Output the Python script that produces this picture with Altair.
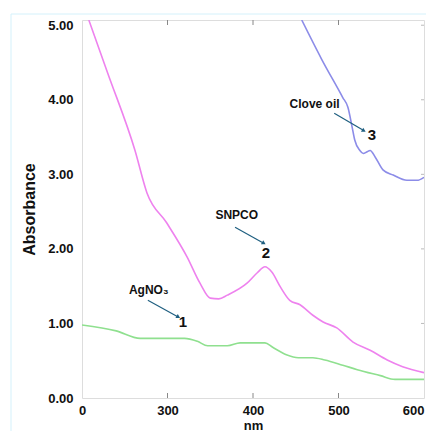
import altair as alt
import pandas as pd

# AgNO3 (curve 1)
ag_nm = [200, 240, 268, 320, 335, 347, 370, 385, 414, 423, 439, 453, 470, 484, 505, 522, 549, 566, 600]
ag_abs = [0.98, 0.90, 0.80, 0.80, 0.76, 0.70, 0.70, 0.74, 0.74, 0.68, 0.58, 0.54, 0.54, 0.51, 0.44, 0.38, 0.30, 0.25, 0.25]
# SNPCO (curve 2)
sn_nm = [208, 230, 262, 276, 299, 323, 338, 350, 360, 370, 393, 405, 414, 422, 432, 443, 455, 470, 482, 498, 517, 537, 557, 575, 600]
sn_abs = [5.07, 4.36, 3.32, 2.75, 2.35, 1.89, 1.54, 1.34, 1.33, 1.38, 1.54, 1.68, 1.76, 1.69, 1.49, 1.31, 1.25, 1.11, 1.02, 0.94, 0.75, 0.64, 0.51, 0.42, 0.34]
# Clove oil (curve 3)
cl_nm = [457, 480, 505, 511, 516, 519, 525, 529, 533, 537, 543, 552, 564, 580, 592, 600]
cl_abs = [5.07, 4.55, 4.03, 3.90, 3.63, 3.46, 3.32, 3.28, 3.30, 3.32, 3.23, 3.06, 2.99, 2.92, 2.92, 2.96]

series_names = ["AgNO3", "SNPCO", "Clove oil"]
series_colors = ["#8fe08f", "#ee82ee", "#8c8ce8"]

x_ticks = [200, 300, 400, 500, 600]
y_ticks = [0, 1, 2, 3, 4, 5]

# annotations
lab_text = ["Clove oil", "SNPCO", "AgNO₃"]
lab_x = [472, 381, 278]
lab_y = [3.95, 2.45, 1.45]
num_text = ["3", "2", "1"]
num_x = [539, 415, 318]
num_y = [3.53, 1.94, 1.02]
arr_x1 = [495, 379, 277]
arr_y1 = [3.82, 2.29, 1.31]
arr_x2 = [529, 412, 312]
arr_y2 = [3.59, 2.08, 1.09]

rows = []
for name, xs, ys in zip(series_names, [ag_nm, sn_nm, cl_nm], [ag_abs, sn_abs, cl_abs]):
    for a, b in zip(xs, ys):
        rows.append({"series": name, "nm": a, "abs": b})
df = pd.DataFrame(rows)

xsc = alt.Scale(domain=[200, 600], nice=False)
ysc = alt.Scale(domain=[0, 5.07], nice=False)

FONT = "Liberation Sans"

x_axis = alt.Axis(values=x_ticks, labelExpr="datum.value == 200 ? '0' : datum.label",
                  ticks=False, grid=False, domain=False, labelFont=FONT, labelFontWeight="bold",
                  labelFontSize=13, labelColor="#111", labelPadding=6, format="d",
                  labelFlush=False, labelOverlap=False, labelBound=False,
                  labelAlign={"condition": {"test": "datum.value >= 600", "value": "right"}, "value": "center"},
                  title="nm", titleFont=FONT, titleFontSize=13, titleFontWeight="bold",
                  titleColor="#111", titlePadding=2)
y_axis = alt.Axis(values=y_ticks, format=".2f", ticks=False, grid=False, domain=False,
                  labelFont=FONT, labelFontWeight="bold", labelFontSize=13, labelColor="#111",
                  labelFlush=False, labelOverlap=False,
                  labelPadding=9, title="Absorbance", titleFont=FONT, titleFontSize=16,
                  titleFontWeight="bold", titleColor="#111", titlePadding=10)

lines = alt.Chart(df).mark_line(strokeWidth=1.6, clip=True, interpolate="monotone").encode(
    x=alt.X("nm:Q", scale=xsc, axis=x_axis),
    y=alt.Y("abs:Q", scale=ysc, axis=y_axis),
    color=alt.Color("series:N", scale=alt.Scale(domain=series_names, range=series_colors), legend=None),
    detail="series:N",
)

tick_df = pd.DataFrame({"t": x_ticks[1:-1]})
bot_ticks = alt.Chart(tick_df).mark_rule(color="#888", strokeWidth=1).encode(
    x=alt.X("t:Q", scale=xsc), y=alt.value(378), y2=alt.value(373))
top_ticks = alt.Chart(tick_df).mark_rule(color="#888", strokeWidth=1).encode(
    x=alt.X("t:Q", scale=xsc), y=alt.value(0), y2=alt.value(5))
ytick_df = pd.DataFrame({"t": y_ticks[1:]})
right_ticks = alt.Chart(ytick_df).mark_rule(color="#bbb", strokeWidth=1).encode(
    y=alt.Y("t:Q", scale=ysc), x=alt.value(339), x2=alt.value(342))

# light-blue picture frame seen in the reference
frame_v = alt.Chart(tick_df.head(1)).mark_rule(color="#d4f1fb", strokeWidth=1).encode(
    x=alt.value(-71), y=alt.value(-6), y2=alt.value(430))
frame_h = alt.Chart(tick_df.head(1)).mark_rule(color="#d4f1fb", strokeWidth=1).encode(
    y=alt.value(-6), x=alt.value(-71), x2=alt.value(344))

lab_df = pd.DataFrame({"t": lab_text, "x": lab_x, "y": lab_y})
labels = alt.Chart(lab_df).mark_text(font=FONT, fontWeight="bold", fontSize=12, color="#111").encode(
    x=alt.X("x:Q", scale=xsc), y=alt.Y("y:Q", scale=ysc), text="t:N")
num_df = pd.DataFrame({"t": num_text, "x": num_x, "y": num_y})
nums = alt.Chart(num_df).mark_text(font=FONT, fontWeight="bold", fontSize=15, color="#111").encode(
    x=alt.X("x:Q", scale=xsc), y=alt.Y("y:Q", scale=ysc), text="t:N")

arr_df = pd.DataFrame({"x1": arr_x1, "y1": arr_y1, "x2": arr_x2, "y2": arr_y2})
arrows = alt.Chart(arr_df).mark_rule(color="#1f5f80", strokeWidth=1.2).encode(
    x=alt.X("x1:Q", scale=xsc), y=alt.Y("y1:Q", scale=ysc), x2="x2:Q", y2="y2:Q")
heads = alt.Chart(arr_df).mark_point(shape="triangle", filled=True, color="#1f5f80",
                                     size=22, angle=120, opacity=1).encode(
    x=alt.X("x2:Q", scale=xsc), y=alt.Y("y2:Q", scale=ysc))

chart = alt.layer(frame_v, frame_h, lines, bot_ticks, top_ticks, right_ticks, arrows, heads, labels, nums).properties(
    width=342, height=378,
    autosize=alt.AutoSizeParams(type="none"),
    padding={"left": 74, "top": 12, "right": 2, "bottom": 33},
).configure_view(stroke="#888", strokeWidth=1.5).configure(background="white")

chart.save("out.html", embed_options={"renderer": "svg", "actions": False})
